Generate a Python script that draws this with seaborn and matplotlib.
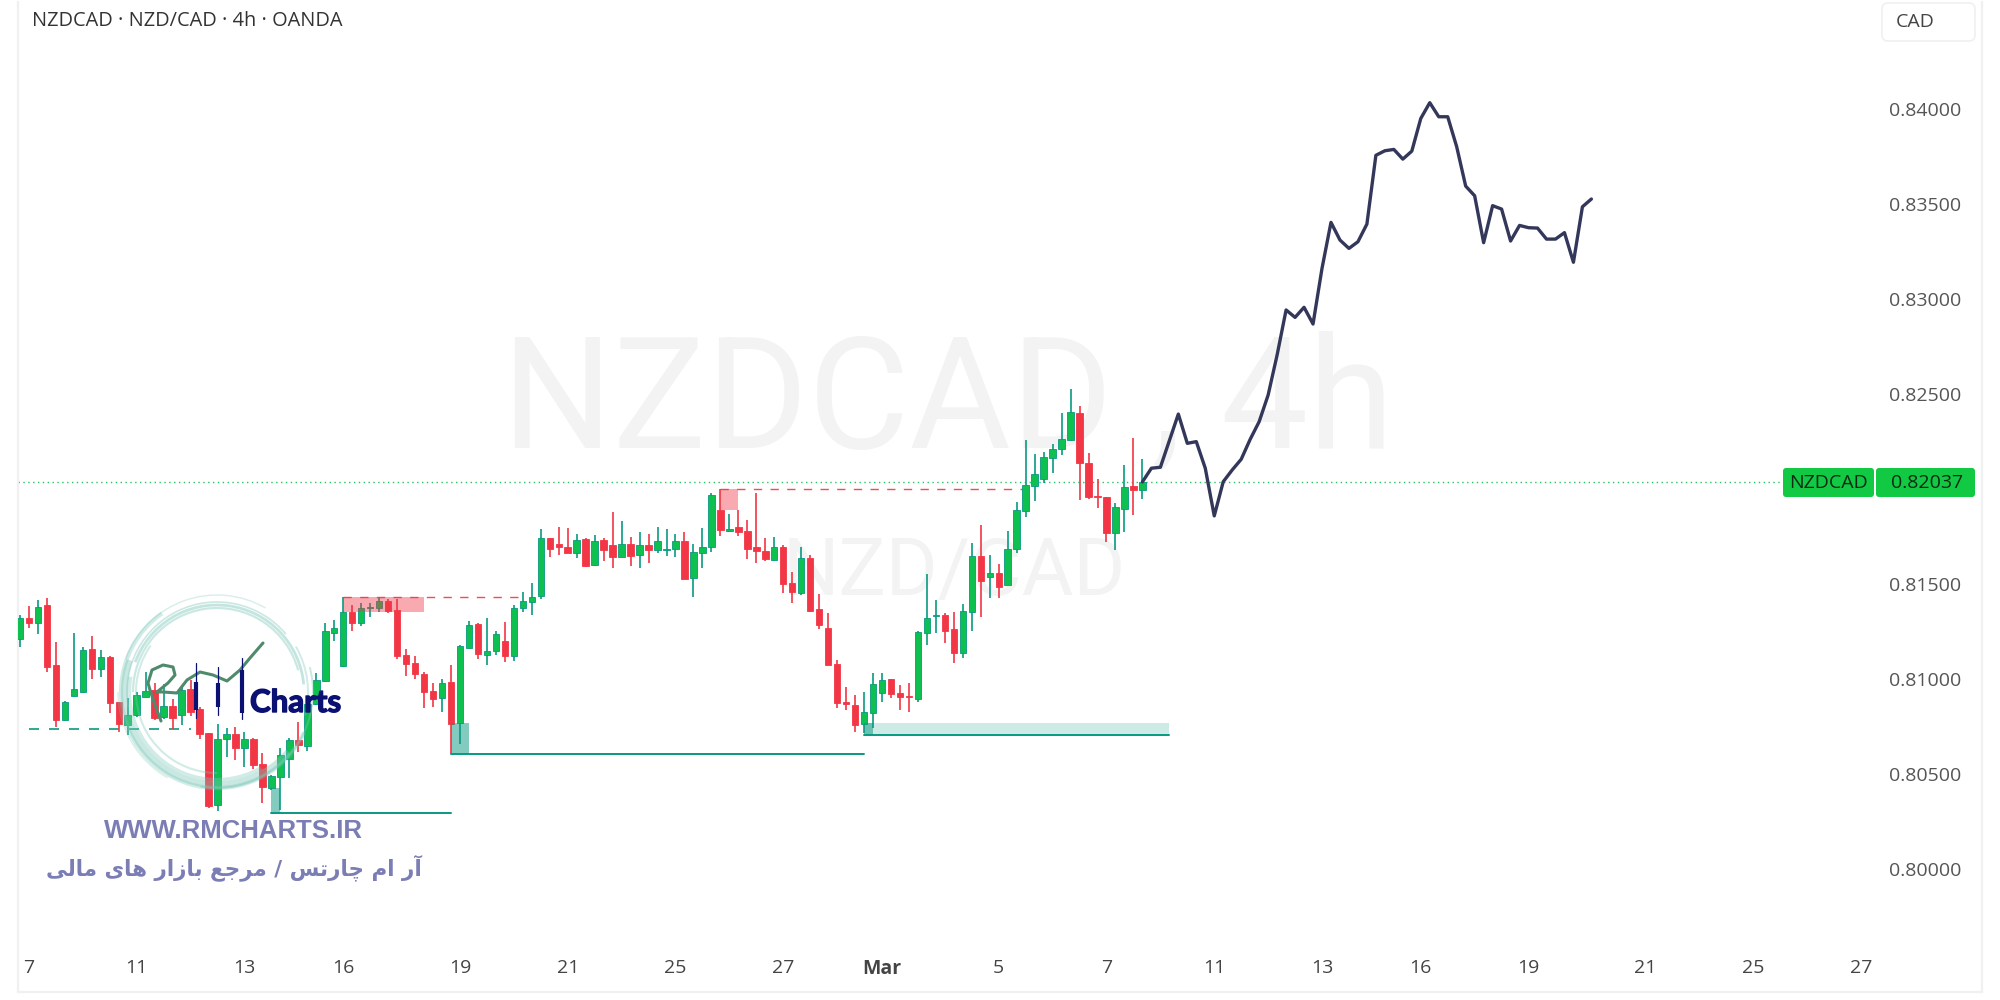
import numpy as np
import pandas as pd
import matplotlib
matplotlib.use("Agg")
import matplotlib.pyplot as plt
import matplotlib.patheffects as pe
import seaborn as sns
from matplotlib.patches import Arc, FancyBboxPatch, Rectangle

# 4h candles
opens = [0.81207,0.81319,0.81294,0.81385,0.81070,0.80782,0.80908,0.80929,0.81157,0.81049,
         0.81115,0.80877,0.80756,0.80807,0.80901,0.80940,0.80796,0.80856,0.80807,0.80943,
         0.80840,0.80715,0.80333,0.80680,0.80708,0.80636,0.80684,0.80551,0.80423,0.80480,
         0.80577,0.80677,0.80645,0.80866,0.80989,0.81242,0.81066,0.81349,0.81291,0.81373,
         0.81370,0.81410,0.81361,0.81126,0.81084,0.81024,0.80936,0.80896,0.80982,0.80765,
         0.81161,0.81287,0.81124,0.81147,0.81200,0.81116,0.81373,0.81403,0.81433,0.81738,
         0.81708,0.81693,0.81663,0.81733,0.81596,0.81731,0.81701,0.81642,0.81708,0.81649,
         0.81701,0.81677,0.81677,0.81684,0.81724,0.81529,0.81663,0.81693,0.81887,0.81777,
         0.81798,0.81777,0.81694,0.81672,0.81624,0.81694,0.81505,0.81452,0.81636,0.81365,
         0.81268,0.81077,0.80875,0.80861,0.80761,0.80821,0.80926,0.80996,0.80922,0.80906,
         0.80892,0.81241,0.81329,0.81336,0.81259,0.81136,0.81352,0.81643,0.81536,0.81555,
         0.81492,0.81683,0.81883,0.82015,0.82052,0.82162,0.82208,0.82257,0.82397,0.82136,
         0.81961,0.81954,0.81764,0.81890,0.82013,0.81992]
highs = [0.81335,0.81384,0.81414,0.81422,0.81194,0.80884,0.81238,0.81164,0.81224,0.81150,
         0.81119,0.80879,0.80896,0.80931,0.81036,0.80975,0.80972,0.80891,0.80966,0.80993,
         0.80852,0.80715,0.80759,0.80738,0.80743,0.80721,0.80686,0.80610,0.80493,0.80633,
         0.80686,0.80773,0.80879,0.81031,0.81291,0.81308,0.81431,0.81387,0.81396,0.81396,
         0.81422,0.81417,0.81417,0.81157,0.81119,0.81036,0.80979,0.80996,0.81070,0.81177,
         0.81305,0.81291,0.81317,0.81252,0.81296,0.81387,0.81458,0.81501,0.81786,0.81742,
         0.81800,0.81791,0.81761,0.81738,0.81754,0.81740,0.81875,0.81829,0.81747,0.81770,
         0.81761,0.81800,0.81786,0.81761,0.81770,0.81708,0.81791,0.81975,0.81996,0.81866,
         0.81887,0.81835,0.81975,0.81738,0.81747,0.81703,0.81563,0.81694,0.81650,0.81445,
         0.81344,0.81098,0.80958,0.80914,0.80928,0.81031,0.81031,0.81000,0.80966,0.80978,
         0.81252,0.81548,0.81413,0.81347,0.81348,0.81392,0.81712,0.81806,0.81652,0.81601,
         0.81776,0.81931,0.82255,0.82182,0.82194,0.82232,0.82396,0.82522,0.82434,0.82189,
         0.82048,0.81957,0.81922,0.82124,0.82264,0.82154]
lows = [0.81164,0.81264,0.81235,0.81035,0.80747,0.80775,0.80908,0.80926,0.80996,0.81007,
        0.80821,0.80719,0.80703,0.80800,0.80901,0.80782,0.80789,0.80733,0.80754,0.80803,
        0.80680,0.80316,0.80305,0.80589,0.80572,0.80533,0.80523,0.80344,0.80414,0.80308,
        0.80475,0.80615,0.80621,0.80861,0.80984,0.81198,0.81063,0.81249,0.81278,0.81326,
        0.81352,0.81343,0.81105,0.81014,0.80996,0.80843,0.80849,0.80826,0.80603,0.80656,
        0.81159,0.81101,0.81071,0.81124,0.81086,0.81093,0.81352,0.81337,0.81419,0.81638,
        0.81652,0.81659,0.81633,0.81586,0.81593,0.81617,0.81580,0.81638,0.81594,0.81580,
        0.81610,0.81663,0.81647,0.81638,0.81522,0.81431,0.81580,0.81668,0.81750,0.81773,
        0.81750,0.81631,0.81610,0.81619,0.81621,0.81452,0.81396,0.81440,0.81352,0.81263,
        0.81070,0.80844,0.80835,0.80716,0.80712,0.80738,0.80879,0.80896,0.80835,0.80826,
        0.80878,0.81175,0.81241,0.81189,0.81084,0.81106,0.81252,0.81322,0.81424,0.81424,
        0.81491,0.81662,0.81852,0.81933,0.82031,0.82080,0.82178,0.82252,0.81940,0.81943,
        0.81896,0.81719,0.81676,0.81771,0.81861,0.81947]
closes = [0.81317,0.81291,0.81378,0.81063,0.80782,0.80877,0.80943,0.81150,0.81049,0.81112,
          0.80870,0.80761,0.80808,0.80914,0.80935,0.80791,0.80856,0.80791,0.80940,0.80826,
          0.80708,0.80330,0.80684,0.80707,0.80633,0.80684,0.80545,0.80428,0.80487,0.80596,
          0.80677,0.80651,0.80866,0.80993,0.81252,0.81266,0.81349,0.81291,0.81370,0.81378,
          0.81410,0.81357,0.81119,0.81078,0.81024,0.80929,0.80894,0.80979,0.80761,0.81171,
          0.81282,0.81129,0.81147,0.81235,0.81116,0.81370,0.81407,0.81429,0.81738,0.81684,
          0.81693,0.81663,0.81731,0.81593,0.81724,0.81677,0.81642,0.81708,0.81647,0.81701,
          0.81677,0.81722,0.81682,0.81722,0.81526,0.81665,0.81694,0.81968,0.81780,0.81789,
          0.81773,0.81684,0.81670,0.81629,0.81694,0.81498,0.81456,0.81636,0.81356,0.81282,
          0.81072,0.80870,0.80865,0.80754,0.80824,0.80972,0.80994,0.80916,0.80901,0.80901,
          0.81245,0.81319,0.81334,0.81248,0.81136,0.81355,0.81643,0.81513,0.81555,0.81484,
          0.81680,0.81887,0.82017,0.82076,0.82166,0.82210,0.82261,0.82403,0.82136,0.81954,
          0.81955,0.81764,0.81901,0.82010,0.81992,0.82034]

# hand drawn projection after the last candle
projection = [0.82035,0.82107,0.82112,0.82252,0.82392,0.82238,0.82247,0.82107,0.81856,0.82036,
              0.82098,0.82154,0.82259,0.82352,0.82492,0.82703,0.82940,0.82901,0.82954,0.82866,
              0.83159,0.83401,0.83308,0.83264,0.83299,0.83392,0.83754,0.83778,0.83785,0.83734,
              0.83776,0.83948,0.84031,0.83957,0.83957,0.83799,0.83592,0.83541,0.83294,0.83489,
              0.83471,0.83303,0.83385,0.83373,0.83371,0.83313,0.83313,0.83347,0.83191,0.83483,
              0.83524]
projection_start = 125

# supply / demand zones
red_start = [36, 78]
red_end = [45, 80]
red_top = [0.81428, 0.81996]
red_bottom = [0.81352, 0.81887]
red_line_end = [56, 112]
teal_start = [28, 48, 94]
teal_end = [29, 50, 95]
teal_top = [0.80426, 0.80765, 0.80768]
teal_bottom = [0.80291, 0.80603, 0.80703]
teal_line_end = [48, 94, 128]
dashed_level = 0.80735
dashed_from = 1
dashed_to = 19
last_price = 0.82037

x_ticks = [1, 13, 25, 36, 49, 61, 73, 85, 96, 109, 121, 133, 145, 156, 168, 181, 193, 205]
x_labels = ['7', '11', '13', '16', '19', '21', '25', '27', 'Mar', '5', '7',
            '11', '13', '16', '19', '21', '25', '27']
y_ticks = [0.80, 0.805, 0.81, 0.815, 0.825, 0.83, 0.835, 0.84]

RED = '#f23645'
GREEN = '#0ec050'
WICK_GREEN = '#089981'
TEAL = '#089981'
INK = '#555555'

sns.set_theme(style="white")
plt.rcParams['font.family'] = ['Open Sans', 'DejaVu Sans']

fig = plt.figure(figsize=(20, 10), dpi=100, facecolor='white')
ax = fig.add_axes([18 / 2000, 8 / 1000, (1982 - 18) / 2000, (992 - 2) / 1000])
ax.set_xlim(-0.22, 218.5)
ax.set_ylim(0.79350, 0.84561)

# watermark
ax.text(0.2465, 0.5505, 'NZDCAD , 4h', transform=ax.transAxes, fontsize=112, color='#f3f3f3',
        family='Roboto', ha='left', va='baseline', zorder=0)
ax.text(0.3895, 0.401, 'NZD/CAD', transform=ax.transAxes, fontsize=57, color='#f3f3f3',
        family='Roboto', ha='left', va='baseline', zorder=0)

# candles
df = pd.DataFrame({'open': opens, 'high': highs, 'low': lows, 'close': closes})
df['i'] = np.arange(len(df))
up = df[df['close'] >= df['open']]
down = df[df['close'] < df['open']]
ax.vlines(up['i'], up['low'], up['high'], color=WICK_GREEN, lw=1.2, zorder=3)
ax.vlines(down['i'], down['low'], down['high'], color=RED, lw=1.2, zorder=3)
ax.bar(up['i'], up['close'] - up['open'], bottom=up['open'], width=0.72,
       color=GREEN, edgecolor=WICK_GREEN, linewidth=0.6, zorder=4)
ax.bar(down['i'], down['open'] - down['close'], bottom=down['close'], width=0.72,
       color=RED, edgecolor=RED, linewidth=0.6, zorder=4)

# zones
for s, e, t, b, le in zip(red_start, red_end, red_top, red_bottom, red_line_end):
    ax.add_patch(Rectangle((s, b), e - s, t - b, color=RED, alpha=0.42, lw=0, zorder=5))
    ax.plot([s, le], [t, t], color=RED, lw=1.0, ls=(0, (6, 6)), alpha=0.9, zorder=2)
for s, e, t, b, le in zip(teal_start, teal_end, teal_top, teal_bottom, teal_line_end):
    ax.add_patch(Rectangle((s, b), e - s, t - b, color=TEAL, alpha=0.5, lw=0, zorder=5))
    ax.plot([s, le], [b, b], color=TEAL, lw=1.4, zorder=5)
# third zone carries a pale band up to its line end
ax.add_patch(Rectangle((teal_start[2], teal_bottom[2]), teal_line_end[2] - teal_start[2],
                       teal_top[2] - teal_bottom[2], color=TEAL, alpha=0.2, lw=0, zorder=2))
ax.plot([dashed_from, dashed_to], [dashed_level, dashed_level], color=TEAL, lw=1.2,
        ls=(0, (6, 6)), zorder=2)

# last price line
ax.plot([-0.22, 196], [last_price, last_price], color='#22c55e', lw=1.0, ls=(0, (1, 2.5)), zorder=2)

# projection
proj = pd.DataFrame({'x': np.arange(len(projection)) + projection_start, 'y': projection})
sns.lineplot(data=proj, x='x', y='y', color='#33385a', lw=2.4, ax=ax, zorder=6, errorbar=None)

# axes cosmetics
ax.set_xlabel('')
ax.set_ylabel('')
ax.set_xticks(x_ticks)
ax.set_xticklabels(x_labels)
ax.set_yticks(y_ticks)
ax.set_yticklabels(['%.5f' % t for t in y_ticks])
ax.yaxis.tick_right()
ax.tick_params(axis='y', length=0, pad=-67, labelsize=14, labelcolor=INK)
ax.tick_params(axis='x', length=0, pad=-24, labelsize=14, labelcolor='#444444')
for lab in ax.get_yticklabels():
    lab.set_ha('left')
for lab in ax.get_xticklabels():
    if lab.get_text() == 'Mar':
        lab.set_fontweight('bold')
ax.spines['top'].set_visible(False)
for side in ['left', 'right', 'bottom']:
    ax.spines[side].set_color('#f0f0f0')
    ax.spines[side].set_linewidth(1.6)

# overlay in pixels for the chrome and the logo
ov = fig.add_axes([0, 0, 1, 1], facecolor='none')
ov.set_xlim(0, 2000)
ov.set_ylim(1000, 0)
ov.axis('off')

ov.text(32, 21, 'NZDCAD · NZD/CAD · 4h · OANDA', fontsize=14.4, color='#333333', va='center')

ov.add_patch(FancyBboxPatch((1882, 3), 93, 38, boxstyle='round,pad=0,rounding_size=6',
                            fc='white', ec='#f0f0f0', lw=1.2))
ov.text(1896, 22, 'CAD', fontsize=14, color='#444444', va='center')

ov.add_patch(FancyBboxPatch((1783, 468), 91, 29, boxstyle='round,pad=0,rounding_size=3',
                            fc='#12c944', ec='none'))
ov.add_patch(FancyBboxPatch((1876, 468), 99, 29, boxstyle='round,pad=0,rounding_size=3',
                            fc='#12c944', ec='none'))
ov.text(1828.5, 483, 'NZDCAD', fontsize=14, color='#0b2a14', ha='center', va='center')
ov.text(1927, 483, '0.82037', fontsize=14, color='#0b2a14', ha='center', va='center')

# logo: brushed ring, signature, candle bars, word mark
ring = '#7cc7b8'
for r, t1, t2, lw, a in [(96, 25, 235, 3.0, 0.35), (93, 40, 200, 4.5, 0.4), (88, 60, 190, 3.0, 0.35),
                         (84, 180, 345, 1.6, 0.4), (90, 170, 320, 1.2, 0.4), (97, 200, 300, 1.0, 0.3),
                         (81, 90, 215, 1.5, 0.35), (99, 120, 180, 1.0, 0.3),
                         (87, 200, 355, 2.0, 0.45), (96, -15, 100, 1.4, 0.4), (91, 330, 375, 1.4, 0.35)]:
    ov.add_patch(Arc((217, 692), 2 * r, 2 * r, theta1=t1, theta2=t2, color=ring, lw=lw, alpha=a, zorder=7))
sig_x = [161, 155, 150, 148, 152, 163, 173, 175, 168, 157, 163, 177, 187, 200, 213, 227, 240, 250, 263]
sig_y = [721, 705, 690, 683, 670, 665, 667, 675, 683, 692, 692, 693, 680, 672, 675, 681, 670, 658, 643]
ov.plot(sig_x, sig_y, color='#4f8a6d', lw=2.2, zorder=8)
for x, y0, y1, b0, b1 in [(196, 663, 718, 682, 710), (218, 667, 715, 683, 707), (242, 658, 719, 670, 713)]:
    ov.plot([x, x], [y0, y1], color='#0a1172', lw=0.9, zorder=8)
    ov.plot([x, x], [b0, b1], color='#0a1172', lw=3.0, zorder=8, solid_capstyle='butt')
ov.text(250, 712, 'Charts', fontsize=22.5, fontweight='bold', color='#0a1172', va='baseline',
        family='Lato', zorder=8, path_effects=[pe.withStroke(linewidth=1.0, foreground='#0a1172')])

ov.text(233.5, 831, 'WWW.RMCHARTS.IR', fontsize=18.5, fontweight='bold', color='#7b7db5',
        ha='center', va='center', family='Liberation Sans')
# Persian line, shaped glyphs in visual order because matplotlib does no shaping
fa_line = ('\uFBFD\uFEDF\uFE8E\uFEE3 \uFBFC\uFE8E\uFEEB \uFEAD\uFE8D\uFEAF\uFE8E\uFE91 '
           '\uFECA\uFE9F\uFEAE\uFEE3 / \uFEB2\uFE97\uFEAD\uFE8E\uFB7C \uFEE1\uFE8D \uFEAD\uFE81')
ov.text(234, 868, fa_line, fontsize=15.5, fontweight='bold', color='#7b7db5',
        ha='center', va='center', family='DejaVu Sans')

fig.savefig('out.png', dpi=100)
plt.close(fig)
